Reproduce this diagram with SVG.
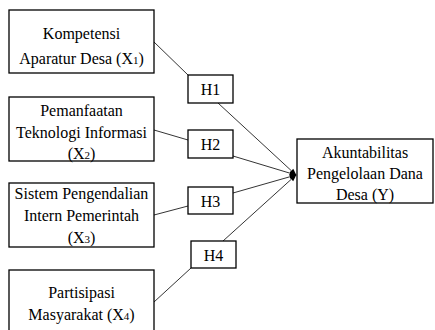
<svg xmlns="http://www.w3.org/2000/svg" width="435" height="330" viewBox="0 0 435 330">
<style>
.box{fill:#fff;stroke:#000;stroke-width:1.3}
.t{font-family:"Liberation Serif","Times New Roman",serif;font-size:16px;fill:#000;text-anchor:middle}
.sub{font-size:11px}
.ln{stroke:#000;stroke-width:0.8;fill:none}
</style>
<defs>
<marker id="ah" viewBox="0 0 10 10" refX="9" refY="5" markerWidth="7" markerHeight="7" markerUnits="userSpaceOnUse" orient="auto">
<path d="M0,1 L10,5 L0,9 z" fill="#000"/>
</marker>
</defs>
<g id="connectors">
<line class="ln" x1="154" y1="42" x2="188" y2="75"/>
<line class="ln" x1="154" y1="130" x2="188" y2="140"/>
<line class="ln" x1="154" y1="215" x2="188" y2="206"/>
<line class="ln" x1="154" y1="302" x2="191" y2="268"/>
<line class="ln" x1="218" y1="103" x2="296" y2="175" marker-end="url(#ah)"/>
<line class="ln" x1="233" y1="156" x2="296" y2="175" marker-end="url(#ah)"/>
<line class="ln" x1="233" y1="193" x2="296" y2="175" marker-end="url(#ah)"/>
<line class="ln" x1="223" y1="241" x2="296" y2="175" marker-end="url(#ah)"/>
</g>
<g id="x1">
<rect class="box" x="9" y="10" width="145" height="63"/>
<text class="t" x="81.5" y="39">Kompetensi</text>
<text class="t" x="81.5" y="64">Aparatur Desa (X<tspan class="sub">1</tspan>)</text>
</g>
<g id="x2">
<rect class="box" x="9" y="97" width="145" height="64"/>
<text class="t" x="81.5" y="116">Pemanfaatan</text>
<text class="t" x="81.5" y="138">Teknologi Informasi</text>
<text class="t" x="81.5" y="159">(X<tspan class="sub">2</tspan>)</text>
</g>
<g id="x3">
<rect class="box" x="9" y="183" width="145" height="64"/>
<text class="t" x="81.5" y="199">Sistem Pengendalian</text>
<text class="t" x="81.5" y="221">Intern Pemerintah</text>
<text class="t" x="81.5" y="243">(X<tspan class="sub">3</tspan>)</text>
</g>
<g id="x4">
<rect class="box" x="9" y="270" width="145" height="64"/>
<text class="t" x="81.5" y="298">Partisipasi</text>
<text class="t" x="81.5" y="320">Masyarakat (X<tspan class="sub">4</tspan>)</text>
</g>
<g id="h1">
<rect class="box" x="188" y="75" width="45" height="28"/>
<text class="t" x="210.5" y="95">H1</text>
</g>
<g id="h2">
<rect class="box" x="188" y="130" width="45" height="28"/>
<text class="t" x="210.5" y="150">H2</text>
</g>
<g id="h3">
<rect class="box" x="188" y="187" width="45" height="27"/>
<text class="t" x="210.5" y="207">H3</text>
</g>
<g id="h4">
<rect class="box" x="191" y="241" width="45" height="27"/>
<text class="t" x="213.5" y="261">H4</text>
</g>
<g id="y">
<rect class="box" x="297" y="139" width="136" height="64"/>
<text class="t" x="365" y="158">Akuntabilitas</text>
<text class="t" x="365" y="179">Pengelolaan Dana</text>
<text class="t" x="365" y="200">Desa (Y)</text>
</g>
</svg>
